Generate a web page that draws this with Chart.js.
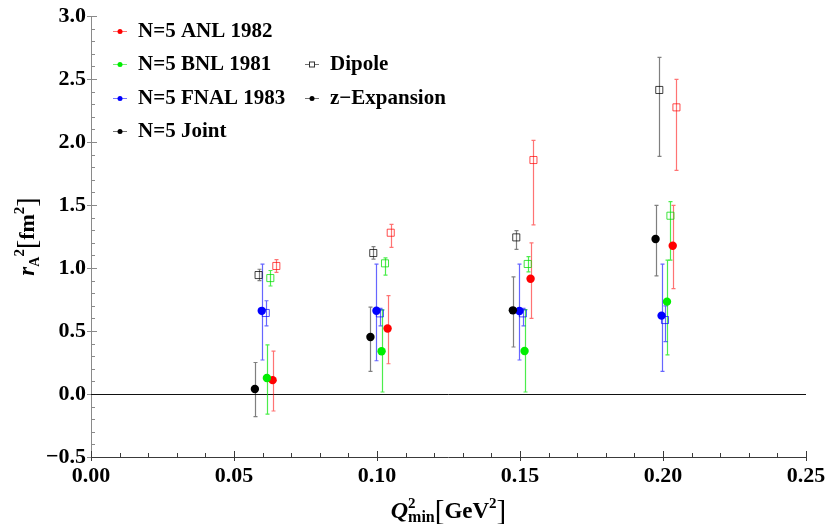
<!DOCTYPE html>
<html>
<head>
<meta charset="utf-8">
<script src="https://cdn.jsdelivr.net/npm/chart.js@4.4.1/dist/chart.umd.min.js"></script>
<style>
html, body { margin: 0; padding: 0; background: #fff; }
#wrap { width: 827px; height: 524px; }
</style>
</head>
<body>
<div id="wrap"><canvas id="chart" width="827" height="524"></canvas></div>
<script>
// --- DATA ---
const xTicks = [0, 0.05, 0.10, 0.15, 0.20, 0.25];
const yTicks = [-0.5, 0, 0.5, 1.0, 1.5, 2.0, 2.5, 3.0];

// N=5 z-expansion fits (filled dots)
const anlX = [0.0635, 0.1037, 0.1537, 0.2034];
const anlY = [0.11, 0.52, 0.915, 1.177];
const anlLo = [-0.135, 0.24, 0.60, 0.836];
const anlHi = [0.34, 0.78, 1.20, 1.497];

const bnlX = [0.0615, 0.1016, 0.1516, 0.2014];
const bnlY = [0.127, 0.339, 0.341, 0.733];
const bnlLo = [-0.16, 0.016, 0.016, 0.31];
const bnlHi = [0.39, 0.667, 0.67, 1.063];

const fnalX = [0.0597, 0.0998, 0.1498, 0.1995];
const fnalY = [0.66, 0.661, 0.659, 0.622];
const fnalLo = [0.27, 0.264, 0.27, 0.18];
const fnalHi = [1.03, 1.03, 1.03, 1.03];

const jointX = [0.0573, 0.0977, 0.1475, 0.1974];
const jointY = [0.04, 0.452, 0.664, 1.23];
const jointLo = [-0.18, 0.18, 0.373, 0.937];
const jointHi = [0.25, 0.69, 0.93, 1.497];

// Dipole fits (open squares)
const anlDipX = [0.0648, 0.1048, 0.1547, 0.2047];
const anlDipY = [1.016, 1.28, 1.857, 2.275];
const anlDipLo = [0.966, 1.164, 1.343, 1.775];
const anlDipHi = [1.066, 1.347, 2.013, 2.497];

const bnlDipX = [0.0627, 0.1028, 0.1527, 0.2026];
const bnlDipY = [0.92, 1.037, 1.032, 1.415];
const bnlDipLo = [0.857, 0.944, 0.97, 1.063];
const bnlDipHi = [0.98, 1.08, 1.09, 1.526];

const fnalDipX = [0.0611, 0.1010, 0.1510, 0.2007];
const fnalDipY = [0.643, 0.64, 0.64, 0.587];
const fnalDipLo = [0.54, 0.54, 0.54, 0.415];
const fnalDipHi = [0.74, 0.68, 0.68, 0.70];

const jointDipX = [0.0586, 0.0987, 0.1487, 0.1987];
const jointDipY = [0.944, 1.119, 1.243, 2.413];
const jointDipLo = [0.90, 1.07, 1.148, 1.886];
const jointDipHi = [0.99, 1.17, 1.296, 2.672];

const SERIF = "'Liberation Serif', 'Times New Roman', serif";

function dots(xs, ys, lo, hi, color, errColor) {
    return {
        data: xs.map((x, i) => ({ x: x, y: ys[i] })),
        errLo: lo, errHi: hi, errColor: errColor,
        pointStyle: 'circle', pointRadius: 4.2, pointHoverRadius: 4.2,
        backgroundColor: color, borderColor: color, borderWidth: 0,
        showLine: false
    };
}

function squares(xs, ys, lo, hi, color, errColor) {
    return {
        data: xs.map((x, i) => ({ x: x, y: ys[i] })),
        errLo: lo, errHi: hi, errColor: errColor,
        pointStyle: 'rect', pointRadius: 5, pointHoverRadius: 5,
        backgroundColor: 'rgba(255,255,255,0)', borderColor: color, borderWidth: 1,
        showLine: false
    };
}

// --- PLUGINS ---
const axesPlugin = {
    id: 'axesPlugin',
    beforeDatasetsDraw(chart) {
        const ctx = chart.ctx, xs = chart.scales.x, ys = chart.scales.y;
        const a = chart.chartArea;
        ctx.save();
        ctx.lineWidth = 1;

        // left axis
        ctx.strokeStyle = '#8a8a8a';
        ctx.beginPath();
        ctx.moveTo(a.left + 0.5, a.top); ctx.lineTo(a.left + 0.5, a.bottom);
        for (let v = -5; v <= 30; v++) {
            const py = Math.round(ys.getPixelForValue(v / 10)) + 0.5;
            const major = v % 5 === 0;
            ctx.moveTo(a.left + (major ? -4 : 0), py);
            ctx.lineTo(a.left + (major ? 6 : 4), py);
        }
        ctx.stroke();

        // bottom axis
        ctx.strokeStyle = '#3a3a3a';
        ctx.beginPath();
        ctx.moveTo(a.left, a.bottom + 0.5); ctx.lineTo(a.right, a.bottom + 0.5);
        for (let v = 0; v <= 25; v++) {
            const px = Math.round(xs.getPixelForValue(v / 100)) + 0.5;
            const major = v % 5 === 0;
            ctx.moveTo(px, a.bottom + (major ? 4 : 0));
            ctx.lineTo(px, a.bottom - (major ? 6 : 4));
        }
        ctx.stroke();

        // zero line
        const y0 = Math.round(ys.getPixelForValue(0)) + 0.5;
        ctx.strokeStyle = '#111';
        ctx.beginPath();
        ctx.moveTo(a.left, y0); ctx.lineTo(a.right, y0);
        ctx.stroke();
        ctx.restore();
    }
};

const errorBars = {
    id: 'errorBars',
    beforeDatasetsDraw(chart) {
        const ctx = chart.ctx, xs = chart.scales.x, ys = chart.scales.y;
        ctx.save();
        ctx.lineWidth = 1.2;
        chart.data.datasets.forEach(ds => {
            if (!ds.errLo) return;
            ctx.strokeStyle = ds.errColor;
            ds.data.forEach((p, i) => {
                const px = Math.round(xs.getPixelForValue(p.x)) + 0.5;
                const top = ys.getPixelForValue(ds.errHi[i]);
                const bot = ys.getPixelForValue(ds.errLo[i]);
                ctx.beginPath();
                ctx.moveTo(px, top); ctx.lineTo(px, bot);
                ctx.moveTo(px - 2, top); ctx.lineTo(px + 2, top);
                ctx.moveTo(px - 2, bot); ctx.lineTo(px + 2, bot);
                ctx.stroke();
            });
        });
        ctx.restore();
    }
};

function drawRich(ctx, pieces, cx, cy) {
    let w = 0;
    pieces.forEach(p => {
        ctx.font = p.font;
        p.w = ctx.measureText(p.t).width;
        if (!p.stay) w += p.w;
    });
    let x = cx - w / 2;
    pieces.forEach(p => {
        ctx.font = p.font;
        ctx.fillText(p.t, x, cy + (p.dy || 0));
        if (!p.stay) x += p.w;
    });
}

const labelsPlugin = {
    id: 'labelsPlugin',
    afterDraw(chart) {
        const ctx = chart.ctx, a = chart.chartArea;
        ctx.save();
        ctx.fillStyle = '#000';
        ctx.textBaseline = 'alphabetic';
        ctx.textAlign = 'left';

        // x title
        drawRich(ctx, [
            { t: 'Q', font: 'italic bold 24px ' + SERIF },
            { t: '2', font: 'bold 15px ' + SERIF, dy: -10, stay: true },
            { t: 'min', font: 'bold 16px ' + SERIF, dy: 4 },
            { t: '[', font: '29px ' + SERIF, dy: 2 },
            { t: 'GeV', font: 'bold 23px ' + SERIF },
            { t: '2', font: 'bold 15px ' + SERIF, dy: -10 },
            { t: ']', font: '29px ' + SERIF, dy: 2 }
        ], (a.left + a.right) / 2, 518);

        // y title
        ctx.save();
        ctx.translate(34, (a.top + a.bottom) / 2);
        ctx.rotate(-Math.PI / 2);
        drawRich(ctx, [
            { t: 'r', font: 'italic bold 23px ' + SERIF },
            { t: 'A', font: 'bold 14px ' + SERIF, dy: 5 },
            { t: '2', font: 'bold 15px ' + SERIF, dy: -10 },
            { t: '[', font: '28px ' + SERIF, dy: 2 },
            { t: 'fm', font: 'bold 22px ' + SERIF },
            { t: '2', font: 'bold 15px ' + SERIF, dy: -10 },
            { t: ']', font: '28px ' + SERIF, dy: 2 }
        ], 0, 0);
        ctx.restore();

        // legend
        const items = [
            { x: 120, y: 31, label: 'N=5 ANL 1982', color: '#ff0000', line: 'rgba(255,0,0,0.55)', kind: 'dot' },
            { x: 120, y: 64, label: 'N=5 BNL 1981', color: '#00ee00', line: 'rgba(0,220,0,0.55)', kind: 'dot' },
            { x: 120, y: 98, label: 'N=5 FNAL 1983', color: '#0000ff', line: 'rgba(0,0,255,0.55)', kind: 'dot' },
            { x: 120, y: 131, label: 'N=5 Joint', color: '#000', line: 'rgba(0,0,0,0.55)', kind: 'dot' },
            { x: 312, y: 64, label: 'Dipole', color: '#333', line: 'rgba(0,0,0,0.55)', kind: 'square' },
            { x: 312, y: 98, label: 'z\u2212Expansion', color: '#000', line: 'rgba(0,0,0,0.55)', kind: 'dot' }
        ];
        items.forEach(it => {
            ctx.lineWidth = 1;
            ctx.strokeStyle = it.line;
            ctx.beginPath();
            ctx.moveTo(it.x - 7, it.y + 0.5); ctx.lineTo(it.x + 7, it.y + 0.5);
            ctx.stroke();
            if (it.kind === 'dot') {
                ctx.fillStyle = it.color;
                ctx.beginPath();
                ctx.arc(it.x, it.y + 0.5, 2.5, 0, Math.PI * 2);
                ctx.fill();
            } else {
                ctx.fillStyle = '#fff';
                ctx.fillRect(it.x - 2.5, it.y - 2, 5, 5);
                ctx.strokeStyle = it.color;
                ctx.strokeRect(it.x - 2.5, it.y - 2, 5, 5);
            }
            ctx.fillStyle = '#000';
            ctx.font = 'bold 21px ' + SERIF;
            ctx.textBaseline = 'middle';
            ctx.fillText(it.label, it.x + 18, it.y + 1);
            ctx.textBaseline = 'alphabetic';
        });
        ctx.restore();
    }
};

// --- CHART ---
const ctx = document.getElementById('chart').getContext('2d');
new Chart(ctx, {
    type: 'scatter',
    data: {
        datasets: [
            dots(jointX, jointY, jointLo, jointHi, '#000000', 'rgba(0,0,0,0.5)'),
            dots(fnalX, fnalY, fnalLo, fnalHi, '#0000ff', 'rgba(0,0,255,0.6)'),
            dots(bnlX, bnlY, bnlLo, bnlHi, '#00ee00', 'rgba(0,230,0,0.7)'),
            dots(anlX, anlY, anlLo, anlHi, '#ff0000', 'rgba(255,0,0,0.55)'),
            squares(jointDipX, jointDipY, jointDipLo, jointDipHi, 'rgba(0,0,0,0.75)', 'rgba(0,0,0,0.5)'),
            squares(fnalDipX, fnalDipY, fnalDipLo, fnalDipHi, 'rgba(0,0,255,0.7)', 'rgba(0,0,255,0.6)'),
            squares(bnlDipX, bnlDipY, bnlDipLo, bnlDipHi, 'rgba(0,220,0,0.75)', 'rgba(0,230,0,0.7)'),
            squares(anlDipX, anlDipY, anlDipLo, anlDipHi, 'rgba(255,0,0,0.7)', 'rgba(255,0,0,0.55)')
        ]
    },
    options: {
        responsive: false,
        animation: false,
        layout: { padding: { left: 0, right: 21, top: 16, bottom: 0 } },
        plugins: { legend: { display: false }, tooltip: { enabled: false } },
        scales: {
            x: {
                type: 'linear', min: 0, max: 0.25,
                afterFit: s => { s.height = 67; s.paddingLeft = 0; s.paddingRight = 0; },
                afterBuildTicks: s => { s.ticks = xTicks.map(v => ({ value: v })); },
                grid: { display: false, drawTicks: false },
                border: { display: false },
                ticks: {
                    padding: 6, color: '#000', maxRotation: 0,
                    font: { family: SERIF, size: 22, weight: 'bold' },
                    callback: v => v.toFixed(2)
                }
            },
            y: {
                type: 'linear', min: -0.5, max: 3.0,
                afterFit: s => { s.width = 91; s.paddingTop = 0; s.paddingBottom = 0; },
                afterBuildTicks: s => { s.ticks = yTicks.map(v => ({ value: v })); },
                grid: { display: false, drawTicks: false },
                border: { display: false },
                ticks: {
                    padding: 5, color: '#000',
                    font: { family: SERIF, size: 22, weight: 'bold' },
                    callback: v => (v < 0 ? '\u2212' + Math.abs(v).toFixed(1) : v.toFixed(1))
                }
            }
        }
    },
    plugins: [axesPlugin, errorBars, labelsPlugin]
});
</script>
</body>
</html>
